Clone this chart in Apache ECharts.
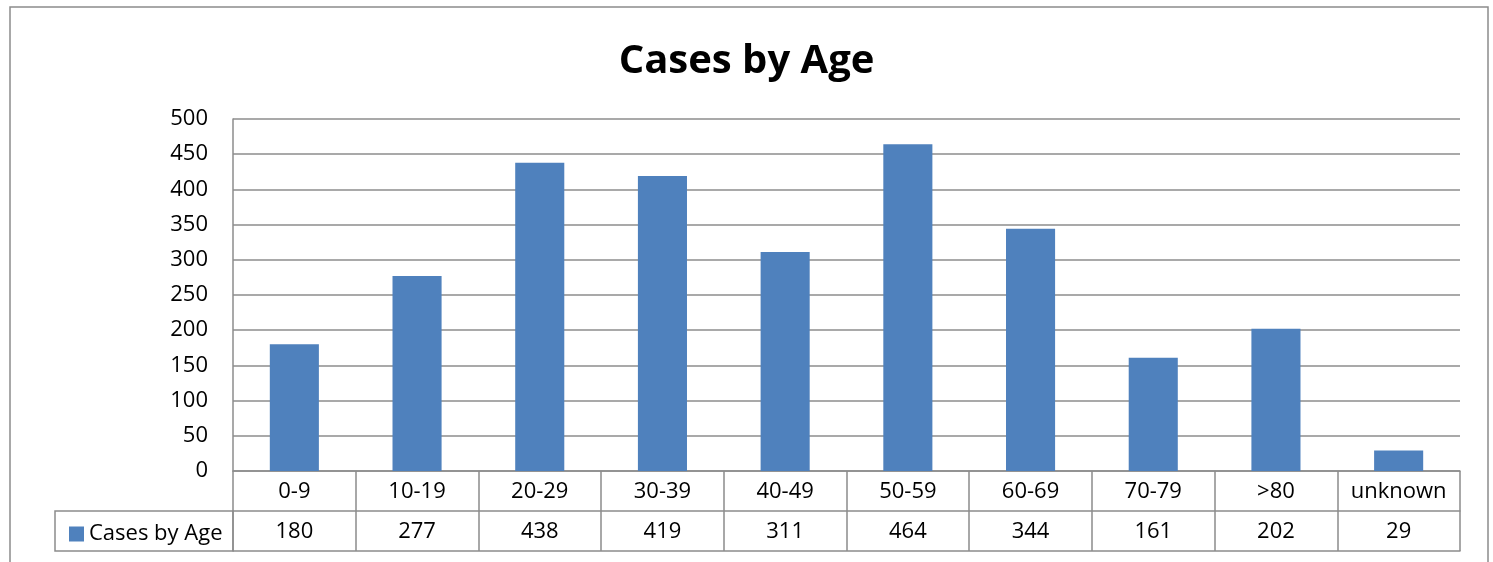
<!DOCTYPE html>
<html><head><meta charset="utf-8">
<script src="https://cdn.jsdelivr.net/npm/echarts@6/dist/echarts.min.js"></script>
<style>html,body{margin:0;padding:0;background:#fff}#c{width:1493px;height:562px}</style>
</head><body><div id="c"></div>
<script>
const categories = ['0-9','10-19','20-29','30-39','40-49','50-59','60-69','70-79','>80','unknown'];
const cases = [180,277,438,419,311,464,344,161,202,29];
const seriesName = 'Cases by Age';
const yTicks = {min:0, max:500, interval:50};

const FONT = '"Open Sans", "Noto Sans", sans-serif';
const GRAY = '#8c8c8c';
const FS = 22;
const chart = echarts.init(document.getElementById('c'), null, {renderer:'canvas'});
chart.setOption({
  animation:false,
  backgroundColor:'#fff',
  title:{text:'Cases by Age', left:'center', top:37,
    textStyle:{fontFamily:FONT, fontWeight:'bold', fontSize:40, color:'#000'}},
  legend:{data:[seriesName], left:64, top:518, itemWidth:15, itemHeight:15, itemGap:6,
    icon:'rect', textStyle:{fontFamily:FONT, fontSize:FS, color:'#000'}},
  grid:{left:233, right:33, top:119, bottom:91, containLabel:false},
  xAxis:[
    {type:'category', data:categories, position:'bottom',
     axisLine:{show:true, lineStyle:{color:GRAY, width:1.5}},
     axisTick:{show:true, length:80, lineStyle:{color:GRAY, width:1.5}},
     axisLabel:{margin:10, fontFamily:FONT, fontSize:FS, color:'#000', interval:0}},
    {type:'category', data:cases.map(String), position:'bottom', offset:40,
     axisLine:{show:true, lineStyle:{color:GRAY, width:1.5}},
     axisTick:{show:false},
     axisLabel:{margin:10, fontFamily:FONT, fontSize:FS, color:'#000', interval:0}},
    {type:'category', data:categories, position:'bottom', offset:80,
     axisLine:{show:true, lineStyle:{color:GRAY, width:1.5}},
     axisTick:{show:false}, axisLabel:{show:false}}
  ],
  yAxis:{type:'value', min:yTicks.min, max:yTicks.max, interval:yTicks.interval,
    axisLine:{show:true, lineStyle:{color:GRAY, width:1.5}},
    axisTick:{show:false},
    axisLabel:{margin:25, fontFamily:FONT, fontSize:FS, color:'#000'},
    splitLine:{lineStyle:{color:GRAY, width:1.5}}},
  series:[{name:seriesName, type:'bar', data:cases, barWidth:'40%', xAxisIndex:0,
    itemStyle:{color:'#4F81BD'}}],
  graphic:[
    {type:'rect', shape:{x:10, y:7, width:1478, height:600}, style:{fill:'none', stroke:GRAY, lineWidth:1.5}, silent:true, z:-1},
    {type:'rect', shape:{x:55, y:511, width:178, height:40}, style:{fill:'none', stroke:GRAY, lineWidth:1.5}, silent:true}
  ]
});
</script></body></html>
